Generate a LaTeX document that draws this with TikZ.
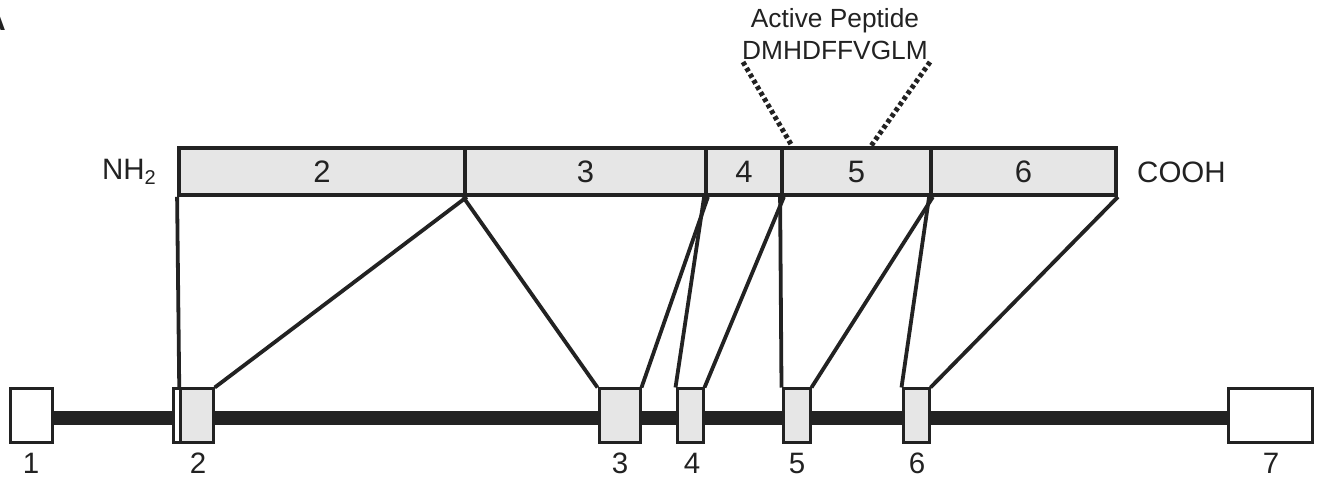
\documentclass[tikz,border=0pt]{standalone}
\usepackage{fontspec}
\setmainfont{Liberation Sans}
\definecolor{ink}{HTML}{222222}
\definecolor{boxfill}{HTML}{E6E6E6}
\begin{document}
\begin{tikzpicture}[x=1pt,y=-1pt,
  seg/.style={draw=ink,fill=boxfill,line width=3.8pt,inner sep=0pt,minimum height=47pt,font=\fontsize{31}{36}\selectfont,text=ink},
  exon/.style={draw=ink,fill=boxfill,line width=3pt,inner sep=0pt,minimum height=53pt},
  wexon/.style={exon,fill=white},
  conn/.style={draw=ink,line width=3.8pt},
  lab/.style={font=\fontsize{29.5}{34}\selectfont,text=ink,inner sep=0pt},
  pep/.style={draw=ink,line width=5pt,dash pattern=on 4pt off 3pt}]
\useasboundingbox (0,0) rectangle (1318,478);
\fill[white] (0,0) rectangle (1318,478);
\node[anchor=base east,font=\bfseries\fontsize{30}{34}\selectfont,text=ink,inner sep=0pt] (panel) at (6,31) {A};
% intron line
\coordinate (il) at (50,418);
\coordinate (ir) at (1230,418);
\draw[ink,line width=14pt] (il) -- (ir);
% exons
\node[wexon,minimum width=42pt] (e1) at (31,415.5) {};
\node[wexon,minimum width=7.5pt] (e2u) at (177,415.5) {};
\node[exon,minimum width=32.5pt] (e2) at (197,415.5) {};
\node[exon,minimum width=41pt] (e3) at (619.5,415.5) {};
\node[exon,minimum width=26pt] (e4) at (690,415.5) {};
\node[exon,minimum width=27pt] (e5) at (796.5,415.5) {};
\node[exon,minimum width=26pt] (e6) at (916,415.5) {};
\node[wexon,minimum width=84pt] (e7) at (1270,415.5) {};
% exon labels
\node[lab] (l1) at (31,463.5) {1};
\node[lab] (l2) at (198,463.5) {2};
\node[lab] (l3) at (620,463.5) {3};
\node[lab] (l4) at (692,463.5) {4};
\node[lab] (l5) at (797,463.5) {5};
\node[lab] (l6) at (917,463.5) {6};
\node[lab] (l7) at (1271,463.5) {7};
% protein
\node[seg,minimum width=286pt] (p2) at (322,171.5) {2};
\node[seg,minimum width=241pt] (p3) at (585.5,171.5) {3};
\node[seg,minimum width=76pt] (p4) at (744,171.5) {4};
\node[seg,minimum width=149pt] (p5) at (856.5,171.5) {5};
\node[seg,minimum width=185pt] (p6) at (1023.5,171.5) {6};
\node[lab,anchor=east,font=\fontsize{29.5}{34}\selectfont] (nh) at (156,172) {NH\raisebox{-0.35ex}{\fontsize{20}{20}\selectfont 2}};
\node[lab,anchor=west,font=\fontsize{29.5}{34}\selectfont] (cooh) at (1137,172) {COOH};
% connectors
\draw[conn] (p2.south west) -- (e2.north west);
\draw[conn] (p2.south east) -- (e2.north east);
\draw[conn] (p3.south west) -- (e3.north west);
\draw[conn] (p3.south east) -- (e3.north east);
\draw[conn] (p4.south west) -- (e4.north west);
\draw[conn] (p4.south east) -- (e4.north east);
\draw[conn] (p5.south west) -- (e5.north west);
\draw[conn] (p5.south east) -- (e5.north east);
\draw[conn] (p6.south west) -- (e6.north west);
\draw[conn] (p6.south east) -- (e6.north east);
% active peptide
\node[lab,font=\fontsize{26.3}{30}\selectfont] (pt1) at (835,20.5) {Active Peptide};
\node[lab,font=\fontsize{26.3}{30}\selectfont] (pt2) at (835,50.5) {DMHDFFVGLM};
\coordinate (d1a) at (743,62);
\coordinate (d1b) at (792,146);
\coordinate (d2a) at (930,62);
\coordinate (d2b) at (871,146);
\draw[pep] (d1a) -- (d1b);
\draw[pep] (d2a) -- (d2b);
\end{tikzpicture}
\end{document}
